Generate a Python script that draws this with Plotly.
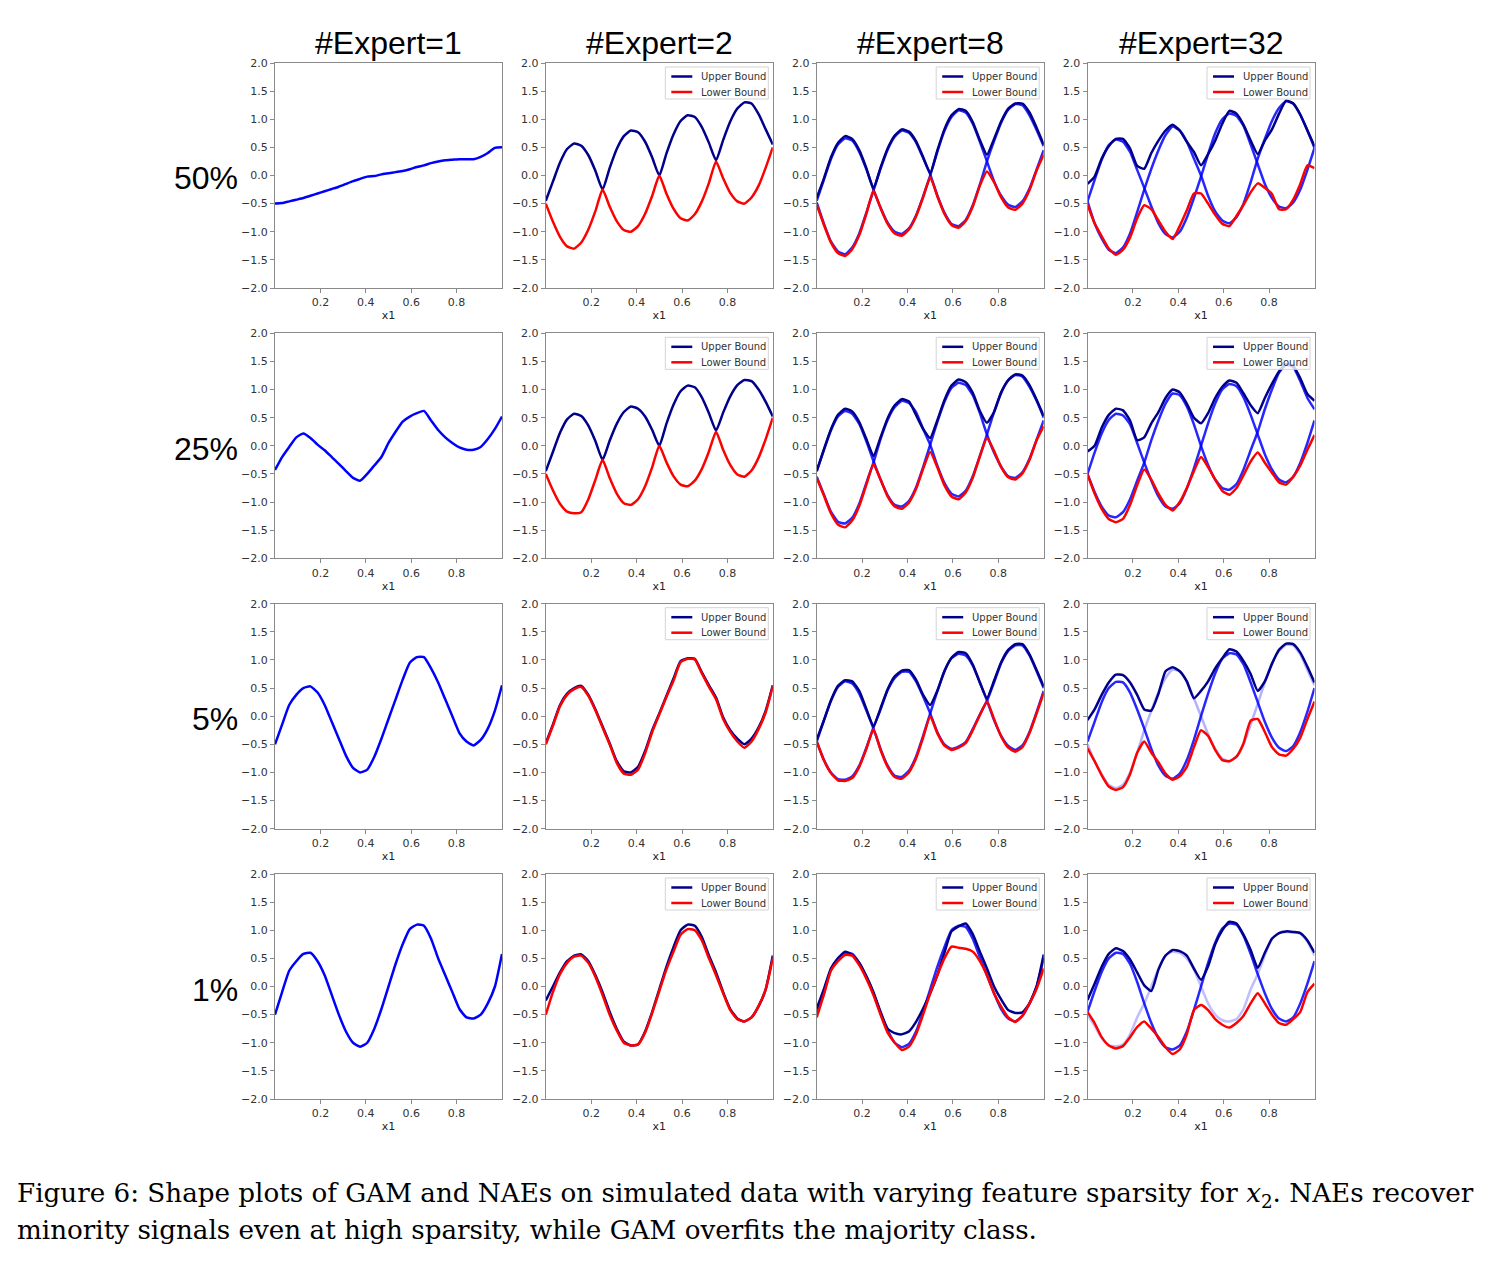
import plotly.graph_objects as go

W, H = 1488, 1262

# ---------------- data ----------------
X = [0.0, 0.03125, 0.0625, 0.09375, 0.125, 0.15625, 0.1875, 0.21875, 0.25, 0.28125, 0.3125,
     0.34375, 0.375, 0.40625, 0.4375, 0.46875, 0.5, 0.53125, 0.5625, 0.59375, 0.625, 0.65625,
     0.6875, 0.71875, 0.75, 0.78125, 0.8125, 0.84375, 0.875, 0.90625, 0.9375, 0.96875, 1.0]

COL_TITLES = ["#Expert=1", "#Expert=2", "#Expert=8", "#Expert=32"]
ROW_LABELS = ["50%", "25%", "5%", "1%"]
LEGEND_NAMES = ["Upper Bound", "Lower Bound"]
Y_TICKS = [2.0, 1.5, 1.0, 0.5, 0.0, -0.5, -1.0, -1.5, -2.0]
Y_TICKTEXT = ["2.0", "1.5", "1.0", "0.5", "0.0", "\u22120.5", "\u22121.0", "\u22121.5", "\u22122.0"]
X_TICKS = [0.2, 0.4, 0.6, 0.8]
X_TICKTEXT = ["0.2", "0.4", "0.6", "0.8"]

# GAM (#Expert=1)
GAM_50 = [-0.50, -0.49, -0.46, -0.43, -0.40, -0.36, -0.32, -0.28, -0.24, -0.20, -0.15, -0.10, -0.06, -0.02, -0.01, 0.02, 0.04,
          0.06, 0.08, 0.11, 0.15, 0.18, 0.22, 0.25, 0.27, 0.28, 0.29, 0.29, 0.29, 0.33, 0.40, 0.49, 0.50]
GAM_25 = [-0.43, -0.20, -0.02, 0.15, 0.22, 0.14, 0.02, -0.08, -0.20, -0.32, -0.45, -0.57, -0.62, -0.50, -0.35, -0.20, 0.05,
          0.25, 0.43, 0.52, 0.58, 0.62, 0.45, 0.28, 0.15, 0.05, -0.03, -0.07, -0.07, -0.02, 0.12, 0.30, 0.52]
GAM_5 = [-0.50, -0.15, 0.20, 0.38, 0.50, 0.53, 0.42, 0.20, -0.10, -0.40, -0.70, -0.92, -1.00, -0.95, -0.72, -0.40, -0.05,
         0.30, 0.65, 0.95, 1.05, 1.05, 0.85, 0.60, 0.30, 0.00, -0.30, -0.45, -0.52, -0.42, -0.22, 0.10, 0.55]
GAM_1 = [-0.50, -0.10, 0.28, 0.45, 0.58, 0.60, 0.45, 0.20, -0.15, -0.50, -0.80, -1.00, -1.07, -1.00, -0.75, -0.40, 0.00,
         0.40, 0.75, 1.02, 1.10, 1.08, 0.85, 0.50, 0.20, -0.10, -0.40, -0.55, -0.57, -0.50, -0.30, 0.00, 0.58]

# #Expert=2
E2_50_UP = [-0.45, -0.11, 0.23, 0.47, 0.57, 0.53, 0.36, 0.08, -0.25, 0.13, 0.47, 0.70, 0.80, 0.77, 0.60, 0.32, 0.00,
            0.39, 0.73, 0.97, 1.07, 1.04, 0.86, 0.58, 0.27, 0.63, 0.96, 1.19, 1.30, 1.28, 1.09, 0.82, 0.55]
E2_50_LO = [-0.50, -0.82, -1.09, -1.26, -1.30, -1.19, -0.96, -0.63, -0.25, -0.55, -0.81, -0.97, -1.00, -0.90, -0.68, -0.36, 0.00,
            -0.32, -0.59, -0.76, -0.80, -0.69, -0.46, -0.13, 0.25, -0.05, -0.31, -0.46, -0.50, -0.39, -0.18, 0.14, 0.50]
E2_25_UP = [-0.45, -0.11, 0.23, 0.47, 0.57, 0.53, 0.36, 0.08, -0.25, 0.09, 0.39, 0.60, 0.70, 0.66, 0.52, 0.28, 0.00,
            0.39, 0.73, 0.97, 1.07, 1.04, 0.86, 0.58, 0.27, 0.59, 0.88, 1.08, 1.17, 1.15, 1.00, 0.78, 0.52]
E2_25_LO = [-0.50, -0.79, -1.03, -1.17, -1.20, -1.18, -0.95, -0.60, -0.25, -0.57, -0.85, -1.02, -1.05, -0.95, -0.72, -0.38, 0.00,
            -0.29, -0.54, -0.69, -0.72, -0.62, -0.41, -0.10, 0.25, -0.07, -0.34, -0.51, -0.55, -0.44, -0.21, 0.12, 0.50]
E2_5_UP = [-0.48, -0.15, 0.20, 0.40, 0.50, 0.54, 0.38, 0.12, -0.18, -0.48, -0.80, -0.98, -1.00, -0.90, -0.62, -0.25, 0.05,
           0.36, 0.67, 0.98, 1.03, 1.02, 0.78, 0.55, 0.33, -0.02, -0.25, -0.40, -0.50, -0.40, -0.20, 0.10, 0.55]
E2_5_LO = [-0.50, -0.17, 0.18, 0.38, 0.48, 0.52, 0.36, 0.10, -0.20, -0.50, -0.83, -1.02, -1.04, -0.95, -0.66, -0.28, 0.03,
           0.34, 0.63, 0.96, 1.02, 1.01, 0.76, 0.52, 0.30, -0.05, -0.28, -0.45, -0.56, -0.45, -0.23, 0.07, 0.53]
E2_1_UP = [-0.25, 0.00, 0.25, 0.45, 0.55, 0.57, 0.45, 0.20, -0.10, -0.45, -0.75, -0.98, -1.05, -1.03, -0.80, -0.45, -0.05,
           0.35, 0.70, 1.00, 1.10, 1.08, 0.88, 0.55, 0.25, -0.10, -0.40, -0.57, -0.62, -0.55, -0.35, -0.05, 0.55]
E2_1_LO = [-0.50, -0.10, 0.22, 0.42, 0.53, 0.55, 0.42, 0.17, -0.15, -0.50, -0.78, -1.00, -1.05, -1.03, -0.82, -0.47, -0.08,
           0.30, 0.62, 0.92, 1.02, 1.00, 0.82, 0.50, 0.20, -0.12, -0.42, -0.58, -0.62, -0.55, -0.35, -0.05, 0.50]

# #Expert=8
E8_50_UP = [-0.40, -0.06, 0.32, 0.58, 0.70, 0.65, 0.45, 0.13, -0.23, 0.14, 0.48, 0.71, 0.82, 0.78, 0.61, 0.33, 0.04,
            0.44, 0.82, 1.07, 1.18, 1.15, 0.95, 0.63, 0.37, 0.65, 0.96, 1.19, 1.28, 1.28, 1.12, 0.85, 0.55]
E8_50_LO = [-0.52, -0.87, -1.19, -1.38, -1.43, -1.31, -1.06, -0.68, -0.27, -0.58, -0.86, -1.03, -1.07, -0.96, -0.73, -0.39, -0.03,
            -0.37, -0.68, -0.88, -0.93, -0.81, -0.55, -0.18, 0.07, -0.12, -0.39, -0.57, -0.61, -0.50, -0.26, 0.09, 0.37]
E8_50_A = [-0.45, -0.08, 0.29, 0.55, 0.66, 0.62, 0.42, 0.11, -0.25, -0.57, -0.84, -1.00, -1.04, -0.94, -0.71, -0.37, 0.00,
           0.42, 0.79, 1.04, 1.16, 1.12, 0.92, 0.60, 0.25, -0.10, -0.36, -0.52, -0.56, -0.46, -0.23, 0.11, 0.45]
E8_50_B = [-0.48, -0.85, -1.17, -1.35, -1.40, -1.28, -1.03, -0.66, -0.27, 0.12, 0.46, 0.69, 0.80, 0.76, 0.59, 0.31, 0.02,
           -0.35, -0.66, -0.86, -0.90, -0.79, -0.53, -0.16, 0.25, 0.61, 0.94, 1.17, 1.27, 1.25, 1.07, 0.81, 0.52]
E8_25_UP = [-0.45, -0.07, 0.29, 0.55, 0.66, 0.61, 0.42, 0.12, -0.18, 0.15, 0.49, 0.72, 0.83, 0.79, 0.55, 0.30, 0.14,
            0.45, 0.81, 1.07, 1.18, 1.13, 0.94, 0.62, 0.41, 0.60, 0.95, 1.17, 1.27, 1.25, 1.08, 0.82, 0.53]
E8_25_LO = [-0.57, -0.88, -1.20, -1.40, -1.45, -1.33, -1.07, -0.69, -0.33, -0.60, -0.90, -1.08, -1.12, -1.01, -0.77, -0.41, -0.11,
            -0.38, -0.70, -0.90, -0.95, -0.83, -0.57, -0.19, 0.14, -0.09, -0.38, -0.56, -0.60, -0.49, -0.25, 0.10, 0.35]
E8_25_A = [-0.45, -0.08, 0.27, 0.52, 0.62, 0.57, 0.39, 0.08, -0.27, -0.60, -0.88, -1.05, -1.08, -0.98, -0.74, -0.38, 0.02,
           0.42, 0.78, 1.03, 1.12, 1.08, 0.90, 0.58, 0.20, -0.12, -0.37, -0.54, -0.57, -0.47, -0.23, 0.11, 0.45]
E8_25_B = [-0.55, -0.86, -1.17, -1.35, -1.38, -1.28, -1.03, -0.66, -0.30, 0.12, 0.46, 0.69, 0.80, 0.76, 0.60, 0.30, 0.02,
           -0.35, -0.66, -0.85, -0.90, -0.80, -0.54, -0.18, 0.20, 0.60, 0.94, 1.16, 1.26, 1.23, 1.05, 0.80, 0.50]
E8_5_UP = [-0.42, -0.08, 0.28, 0.54, 0.64, 0.62, 0.45, 0.13, -0.18, 0.14, 0.48, 0.71, 0.81, 0.82, 0.65, 0.38, 0.20,
           0.45, 0.80, 1.04, 1.14, 1.12, 0.92, 0.60, 0.32, 0.63, 0.96, 1.18, 1.28, 1.28, 1.10, 0.82, 0.53]
E8_5_LO = [-0.45, -0.78, -1.01, -1.14, -1.15, -1.10, -0.90, -0.58, -0.23, -0.60, -0.90, -1.08, -1.11, -1.00, -0.75, -0.38, 0.00,
           -0.30, -0.52, -0.60, -0.56, -0.48, -0.25, 0.02, 0.26, -0.05, -0.36, -0.56, -0.63, -0.55, -0.30, 0.05, 0.41]
E8_5_A = [-0.45, -0.08, 0.27, 0.52, 0.62, 0.58, 0.40, 0.10, -0.22, -0.58, -0.88, -1.06, -1.08, -0.97, -0.72, -0.35, 0.05,
          0.44, 0.80, 1.03, 1.11, 1.08, 0.90, 0.60, 0.28, -0.07, -0.35, -0.53, -0.60, -0.52, -0.28, 0.07, 0.45]
E8_5_B = [-0.45, -0.77, -1.00, -1.12, -1.13, -1.07, -0.88, -0.56, -0.20, 0.12, 0.46, 0.68, 0.79, 0.79, 0.62, 0.35, 0.05,
          -0.28, -0.50, -0.58, -0.54, -0.46, -0.23, 0.03, 0.27, 0.60, 0.94, 1.16, 1.26, 1.26, 1.08, 0.80, 0.50]
E8_1_UP = [-0.39, -0.05, 0.32, 0.50, 0.62, 0.56, 0.42, 0.18, -0.10, -0.45, -0.75, -0.83, -0.85, -0.80, -0.63, -0.39, -0.12,
           0.20, 0.60, 0.98, 1.07, 1.12, 0.93, 0.62, 0.32, 0.00, -0.23, -0.42, -0.47, -0.46, -0.30, 0.00, 0.57]
E8_1_LO = [-0.55, -0.15, 0.28, 0.45, 0.56, 0.55, 0.38, 0.14, -0.15, -0.50, -0.82, -1.00, -1.13, -1.07, -0.85, -0.50, -0.12,
           0.20, 0.50, 0.71, 0.69, 0.67, 0.62, 0.45, 0.20, -0.12, -0.36, -0.55, -0.63, -0.52, -0.30, -0.04, 0.32]
E8_1_A = [-0.50, -0.12, 0.30, 0.50, 0.60, 0.58, 0.42, 0.18, -0.12, -0.48, -0.78, -1.00, -1.08, -1.02, -0.80, -0.45, -0.05,
          0.35, 0.70, 1.00, 1.08, 1.06, 0.85, 0.52, 0.20, -0.12, -0.40, -0.57, -0.62, -0.52, -0.30, 0.00, 0.50]

# #Expert=32
E32_50_UP = [-0.15, -0.02, 0.30, 0.52, 0.65, 0.65, 0.48, 0.17, 0.12, 0.40, 0.62, 0.80, 0.90, 0.80, 0.60, 0.42, 0.18,
             0.38, 0.62, 0.92, 1.15, 1.10, 0.90, 0.62, 0.38, 0.62, 0.82, 1.10, 1.33, 1.28, 1.08, 0.80, 0.52]
E32_50_LO = [-0.52, -0.85, -1.08, -1.30, -1.41, -1.32, -1.10, -0.76, -0.53, -0.60, -0.80, -1.00, -1.13, -0.90, -0.62, -0.32, -0.32,
             -0.50, -0.70, -0.86, -0.90, -0.72, -0.52, -0.30, -0.14, -0.22, -0.33, -0.60, -0.60, -0.43, -0.15, 0.18, 0.13]
E32_50_A = [-0.46, -0.08, 0.28, 0.54, 0.64, 0.60, 0.42, 0.10, -0.22, -0.55, -0.85, -1.04, -1.10, -1.00, -0.75, -0.40, -0.02,
            0.38, 0.75, 1.00, 1.10, 1.06, 0.88, 0.55, 0.20, -0.15, -0.40, -0.55, -0.58, -0.48, -0.25, 0.10, 0.49]
E32_50_B = [-0.46, -0.85, -1.12, -1.32, -1.38, -1.28, -1.03, -0.65, -0.25, 0.12, 0.45, 0.72, 0.87, 0.80, 0.60, 0.30, 0.00,
            -0.36, -0.64, -0.80, -0.85, -0.74, -0.50, -0.12, 0.30, 0.65, 0.97, 1.20, 1.32, 1.28, 1.08, 0.80, 0.49]
E32_25_UP = [-0.10, 0.00, 0.32, 0.55, 0.66, 0.63, 0.45, 0.10, 0.15, 0.40, 0.60, 0.85, 1.00, 0.95, 0.75, 0.50, 0.40,
             0.58, 0.85, 1.05, 1.16, 1.12, 0.93, 0.72, 0.58, 0.85, 1.10, 1.32, 1.45, 1.42, 1.20, 0.92, 0.80]
E32_25_LO = [-0.51, -0.85, -1.12, -1.30, -1.36, -1.30, -1.05, -0.70, -0.42, -0.60, -0.85, -1.05, -1.15, -1.00, -0.75, -0.45, -0.20,
             -0.38, -0.60, -0.80, -0.87, -0.75, -0.52, -0.28, -0.12, -0.30, -0.48, -0.65, -0.69, -0.55, -0.35, -0.07, 0.19]
E32_25_A = [-0.50, -0.12, 0.22, 0.46, 0.57, 0.54, 0.38, 0.05, -0.30, -0.62, -0.90, -1.08, -1.12, -1.02, -0.76, -0.40, 0.00,
            0.40, 0.75, 1.00, 1.10, 1.06, 0.86, 0.55, 0.20, -0.15, -0.42, -0.60, -0.65, -0.55, -0.30, 0.05, 0.45]
E32_25_B = [-0.50, -0.82, -1.08, -1.24, -1.27, -1.18, -0.95, -0.62, -0.30, 0.10, 0.45, 0.75, 0.93, 0.90, 0.70, 0.38, 0.00,
            -0.34, -0.60, -0.75, -0.78, -0.68, -0.42, -0.08, 0.25, 0.65, 1.00, 1.30, 1.44, 1.40, 1.15, 0.85, 0.65]
E32_5_UP = [-0.07, 0.12, 0.38, 0.60, 0.74, 0.73, 0.60, 0.38, 0.12, 0.10, 0.40, 0.80, 0.87, 0.80, 0.62, 0.32, 0.45,
            0.62, 0.85, 1.03, 1.19, 1.15, 0.98, 0.75, 0.45, 0.62, 0.93, 1.18, 1.29, 1.28, 1.13, 0.88, 0.60]
E32_5_LO = [-0.57, -0.80, -1.05, -1.25, -1.31, -1.26, -1.03, -0.65, -0.45, -0.65, -0.82, -1.02, -1.13, -1.07, -0.90, -0.55, -0.25,
            -0.35, -0.60, -0.78, -0.80, -0.72, -0.48, -0.08, -0.05, -0.28, -0.55, -0.68, -0.70, -0.58, -0.38, -0.05, 0.26]
E32_5_A = [-0.45, -0.10, 0.25, 0.50, 0.61, 0.60, 0.42, 0.12, -0.22, -0.58, -0.88, -1.06, -1.11, -1.02, -0.78, -0.42, 0.00,
           0.40, 0.76, 1.02, 1.12, 1.10, 0.92, 0.60, 0.25, -0.10, -0.38, -0.56, -0.62, -0.53, -0.28, 0.08, 0.50]
E32_5_B = [-0.50, -0.80, -1.03, -1.22, -1.28, -1.22, -1.00, -0.65, -0.25, 0.10, 0.42, 0.68, 0.83, 0.80, 0.62, 0.32, 0.00,
           -0.32, -0.58, -0.75, -0.80, -0.72, -0.50, -0.15, 0.22, 0.60, 0.94, 1.16, 1.27, 1.26, 1.10, 0.82, 0.55]
E32_1_UP = [-0.24, 0.05, 0.35, 0.58, 0.68, 0.63, 0.48, 0.25, 0.02, -0.08, 0.30, 0.55, 0.65, 0.63, 0.55, 0.32, 0.12,
            0.36, 0.75, 1.00, 1.15, 1.12, 0.92, 0.65, 0.33, 0.60, 0.85, 0.95, 0.98, 0.97, 0.95, 0.82, 0.60]
E32_1_LO = [-0.45, -0.65, -0.90, -1.05, -1.10, -1.06, -0.90, -0.72, -0.62, -0.75, -0.90, -1.08, -1.20, -1.12, -0.85, -0.42, -0.33,
            -0.42, -0.58, -0.68, -0.73, -0.65, -0.52, -0.30, -0.12, -0.30, -0.50, -0.65, -0.68, -0.58, -0.45, -0.10, 0.05]
E32_1_A = [-0.45, -0.08, 0.26, 0.50, 0.60, 0.58, 0.40, 0.08, -0.30, -0.65, -0.92, -1.08, -1.12, -1.05, -0.80, -0.42, 0.00,
           0.42, 0.78, 1.03, 1.12, 1.10, 0.90, 0.58, 0.22, -0.12, -0.40, -0.57, -0.62, -0.55, -0.30, 0.05, 0.45]
E32_1_B = [-0.50, -0.70, -0.92, -1.04, -1.06, -1.03, -0.85, -0.55, -0.30, 0.00, 0.32, 0.55, 0.62, 0.60, 0.50, 0.30, 0.00,
           -0.30, -0.50, -0.60, -0.62, -0.58, -0.40, -0.05, 0.22, 0.55, 0.85, 0.95, 0.97, 0.96, 0.94, 0.80, 0.55]

CAPTION_1 = ("Figure 6: Shape plots of GAM and NAEs on simulated data with varying feature sparsity for "
             "<i>x</i><sub>2</sub>. NAEs recover")
CAPTION_2 = "minority signals even at high sparsity, while GAM overfits the majority class."

# ---------------- panel assembly ----------------
GAM = [GAM_50, GAM_25, GAM_5, GAM_1]
BOUNDS = {
    (0, 1): (E2_50_UP, E2_50_LO, []),
    (1, 1): (E2_25_UP, E2_25_LO, []),
    (2, 1): (E2_5_UP, E2_5_LO, []),
    (3, 1): (E2_1_UP, E2_1_LO, []),
    (0, 2): (E8_50_UP, E8_50_LO, [(E8_50_A, 0.85), (E8_50_B, 0.85)]),
    (1, 2): (E8_25_UP, E8_25_LO, [(E8_25_A, 0.85), (E8_25_B, 0.85)]),
    (2, 2): (E8_5_UP, E8_5_LO, [(E8_5_A, 0.85), (E8_5_B, 0.85)]),
    (3, 2): (E8_1_UP, E8_1_LO, [(E8_1_A, 0.85)]),
    (0, 3): (E32_50_UP, E32_50_LO, [(E32_50_A, 0.85), (E32_50_B, 0.85)]),
    (1, 3): (E32_25_UP, E32_25_LO, [(E32_25_A, 0.85), (E32_25_B, 0.85)]),
    (2, 3): (E32_5_UP, E32_5_LO, [(E32_5_A, 0.85), (E32_5_B, 0.3)]),
    (3, 3): (E32_1_UP, E32_1_LO, [(E32_1_A, 0.85), (E32_1_B, 0.25)]),
}

COL_LEFT = [275.0, 545.8, 816.7, 1087.5]
PANEL_W = 227.0
ROW_TOP = [63.0, 333.3, 603.7, 874.0]
PANEL_H = 225.0

NAVY = "#00008B"
RED = "#FF0000"
BLUE = "#0000FF"
AXIS_GRAY = "#8a8a8a"
TICK_FONT = dict(family="DejaVu Sans", size=11, color="#333333")
LINE_STYLE = dict(width=2.5, shape="spline", smoothing=0.5)


def px(xpix):
    return xpix / W


def py(ypix):
    return 1 - ypix / H


fig = go.Figure()
layout = {}
shapes = []
annotations = []

for r in range(4):
    for c in range(4):
        idx = r * 4 + c + 1
        sfx = "" if idx == 1 else str(idx)
        xa, ya = "x" + sfx, "y" + sfx
        left, top = COL_LEFT[c], ROW_TOP[r]
        right = left + PANEL_W
        layout["xaxis" + sfx] = dict(
            domain=[px(left), px(right)], anchor=ya, range=[0, 1], automargin=False,
            tickmode="array", tickvals=X_TICKS, ticktext=X_TICKTEXT,
            ticks="outside", ticklen=4, tickwidth=1, tickcolor=AXIS_GRAY,
            showline=True, linecolor=AXIS_GRAY, linewidth=1, mirror=True,
            showgrid=False, zeroline=False, tickfont=TICK_FONT,
            title=dict(text="x1", font=dict(family="DejaVu Sans", size=11, color="#222"), standoff=3),
        )
        layout["yaxis" + sfx] = dict(
            domain=[py(top + PANEL_H), py(top)], anchor=xa, range=[-2, 2], automargin=False,
            tickmode="array", tickvals=Y_TICKS, ticktext=Y_TICKTEXT,
            ticks="outside", ticklen=4, tickwidth=1, tickcolor=AXIS_GRAY,
            showline=True, linecolor=AXIS_GRAY, linewidth=1, mirror=True,
            showgrid=False, zeroline=False, tickfont=TICK_FONT,
        )
        if c == 0:
            fig.add_trace(go.Scatter(x=X, y=GAM[r], mode="lines", xaxis=xa, yaxis=ya, name="GAM",
                                     line=dict(color=BLUE, **LINE_STYLE),
                                     showlegend=False, hoverinfo="skip"))
            continue
        up, lo, experts = BOUNDS[(r, c)]
        for arr, alpha in experts:
            fig.add_trace(go.Scatter(x=X, y=arr, mode="lines", xaxis=xa, yaxis=ya, name="Expert",
                                     line=dict(color="rgba(0,0,255,%s)" % alpha, **LINE_STYLE),
                                     showlegend=False, hoverinfo="skip"))
        fig.add_trace(go.Scatter(x=X, y=up, mode="lines", xaxis=xa, yaxis=ya, name=LEGEND_NAMES[0],
                                 showlegend=False, line=dict(color=NAVY, **LINE_STYLE)))
        fig.add_trace(go.Scatter(x=X, y=lo, mode="lines", xaxis=xa, yaxis=ya, name=LEGEND_NAMES[1],
                                 showlegend=False, line=dict(color=RED, **LINE_STYLE)))

        # per-panel legend box (matplotlib style, upper right)
        bx0, bx1 = right - 107.5, right - 4.5
        by0, by1 = top + 4, top + 36
        shapes.append(dict(type="rect", xref="paper", yref="paper",
                           x0=px(bx0), x1=px(bx1), y0=py(by1), y1=py(by0),
                           fillcolor="rgba(255,255,255,0.8)", line=dict(color="#d4d4d4", width=1),
                           layer="above"))
        for k, (name, col) in enumerate(zip(LEGEND_NAMES, [NAVY, RED])):
            ly = top + 13.5 + k * 15.5
            shapes.append(dict(type="line", xref="paper", yref="paper",
                               x0=px(bx0 + 6), x1=px(bx0 + 27), y0=py(ly), y1=py(ly),
                               line=dict(color=col, width=2.5), layer="above"))
            annotations.append(dict(text=name, x=px(bx0 + 34), y=py(ly), xref="paper", yref="paper",
                                    xanchor="left", yanchor="middle", showarrow=False,
                                    font=dict(family="DejaVu Sans", size=10, color="#333333")))

for c, t in enumerate(COL_TITLES):
    annotations.append(dict(text=t, x=px(COL_LEFT[c] + PANEL_W / 2), y=py(43),
                            xref="paper", yref="paper", xanchor="center", yanchor="middle",
                            showarrow=False, font=dict(family="Liberation Sans", size=32, color="#000")))
for r, t in enumerate(ROW_LABELS):
    annotations.append(dict(text=t, x=px(240), y=py(ROW_TOP[r] + PANEL_H / 2 + 3),
                            xref="paper", yref="paper", xanchor="right", yanchor="middle",
                            showarrow=False, font=dict(family="Liberation Sans", size=32, color="#000")))
annotations.append(dict(text=CAPTION_1, x=px(15), y=py(1195), xref="paper", yref="paper",
                        xanchor="left", yanchor="middle", showarrow=False,
                        font=dict(family="DejaVu Serif", size=26.2, color="#000")))
annotations.append(dict(text=CAPTION_2, x=px(15), y=py(1230), xref="paper", yref="paper",
                        xanchor="left", yanchor="middle", showarrow=False,
                        font=dict(family="DejaVu Serif", size=26.2, color="#000")))

fig.update_layout(
    width=W, height=H, margin=dict(l=0, r=0, t=0, b=0, autoexpand=False),
    paper_bgcolor="white", plot_bgcolor="white", showlegend=False,
    shapes=shapes, annotations=annotations, **layout,
)

fig.write_html("out.html", include_plotlyjs=True, full_html=True,
               config={"displayModeBar": False},
               post_script="document.body.style.margin='0';")
